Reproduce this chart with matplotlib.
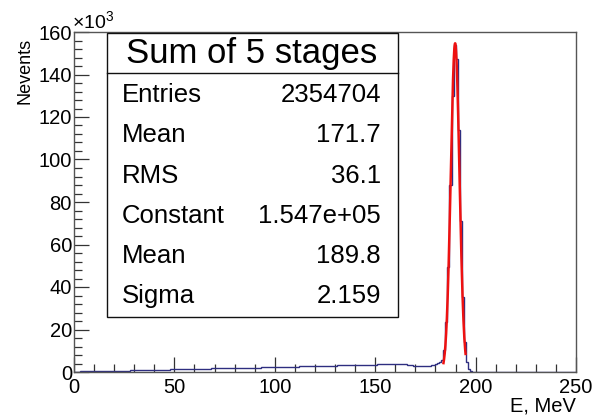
import numpy as np
import matplotlib
matplotlib.use("Agg")
import matplotlib.pyplot as plt
from matplotlib.patches import Rectangle
from matplotlib.lines import Line2D
from matplotlib.ticker import MultipleLocator, FuncFormatter

plt.rcParams['font.family'] = ['Liberation Sans', 'DejaVu Sans']
plt.rcParams['mathtext.fontset'] = 'custom'
plt.rcParams['mathtext.rm'] = 'Liberation Sans'

# Energy histogram, 1 MeV bins from 0 to 250 MeV (counts in thousands)
bin_edges = np.arange(0, 251, 1)
counts_k = [
    0.0, 0.1, 0.2, 0.3, 0.3, 0.3, 0.4, 0.4, 0.4, 0.4,
    0.4, 0.5, 0.5, 0.5, 0.5, 0.5, 0.5, 0.6, 0.6, 0.6,
    0.6, 0.6, 0.6, 0.7, 0.7, 0.7, 0.7, 0.7, 0.8, 0.8,
    0.8, 0.8, 0.8, 0.9, 0.9, 0.9, 0.9, 0.9, 1.0, 1.0,
    1.0, 1.0, 1.0, 1.1, 1.1, 1.1, 1.1, 1.1, 1.2, 1.2,
    1.2, 1.2, 1.3, 1.3, 1.3, 1.3, 1.4, 1.4, 1.4, 1.4,
    1.5, 1.5, 1.5, 1.5, 1.6, 1.6, 1.6, 1.6, 1.7, 1.7,
    1.7, 1.7, 1.7, 1.8, 1.8, 1.8, 1.8, 1.8, 1.9, 1.9,
    1.9, 1.9, 1.9, 2.0, 2.0, 2.0, 2.0, 2.0, 2.1, 2.1,
    2.1, 2.1, 2.1, 2.2, 2.2, 2.2, 2.2, 2.2, 2.2, 2.3,
    2.3, 2.3, 2.3, 2.3, 2.4, 2.4, 2.4, 2.4, 2.5, 2.5,
    2.5, 2.5, 2.6, 2.6, 2.6, 2.6, 2.7, 2.7, 2.7, 2.7,
    2.8, 2.8, 2.8, 2.9, 2.9, 2.9, 2.9, 3.0, 3.0, 3.0,
    3.0, 3.1, 3.1, 3.1, 3.2, 3.2, 3.2, 3.2, 3.3, 3.3,
    3.3, 3.3, 3.4, 3.4, 3.4, 3.4, 3.5, 3.5, 3.5, 3.5,
    3.5, 3.6, 3.6, 3.6, 3.6, 3.7, 3.7, 3.7, 3.7, 3.8,
    3.8, 3.8, 3.8, 3.7, 3.7, 3.6, 3.5, 3.3, 3.1, 3.0,
    2.9, 2.8, 2.7, 2.7, 2.7, 2.7, 2.8, 2.9, 3.1, 3.3,
    3.6, 4.1, 4.6, 5.8, 10.3, 23.5, 49.5, 88.0, 130.0, 154.0,
    147.5, 114.0, 71.0, 35.5, 14.0, 4.5, 1.4, 0.5, 0.2, 0.1,
    0.0, 0.0, 0.0, 0.0, 0.0, 0.0, 0.0, 0.0, 0.0, 0.0,
    0.0, 0.0, 0.0, 0.0, 0.0, 0.0, 0.0, 0.0, 0.0, 0.0,
    0.0, 0.0, 0.0, 0.0, 0.0, 0.0, 0.0, 0.0, 0.0, 0.0,
    0.0, 0.0, 0.0, 0.0, 0.0, 0.0, 0.0, 0.0, 0.0, 0.0,
    0.0, 0.0, 0.0, 0.0, 0.0, 0.0, 0.0, 0.0, 0.0, 0.0,
]
counts = np.array(counts_k) * 1000.0

# Gaussian fit parameters
fit_constant = 1.547e5
fit_mean = 189.8
fit_sigma = 2.159
fit_range = (184.0, 195.0)

# Statistics box entries
stats_title = "Sum of 5 stages"
stats_names = ["Entries", "Mean", "RMS", "Constant", "Mean", "Sigma"]
stats_values = ["2354704", "171.7", "36.1", "1.547e+05", "189.8", "2.159"]

W, H = 603, 418
fig = plt.figure(figsize=(W / 100, H / 100), dpi=100)
ax = fig.add_axes([74 / W, 1 - 372 / H, (576 - 74) / W, (372 - 32) / H])


def fxy(x, y):
    return x / W, 1 - y / H


hist_color = "#2e2e80"
ax.stairs(counts, bin_edges, color=hist_color, lw=1.0, zorder=2)

xf = np.linspace(fit_range[0], fit_range[1], 300)
yf = fit_constant * np.exp(-0.5 * ((xf - fit_mean) / fit_sigma) ** 2)
ax.plot(xf, yf, color="#ee1111", lw=1.8, zorder=3)

ax.set_xlim(0, 250)
ax.set_ylim(0, 160000)

ax.xaxis.set_major_locator(MultipleLocator(50))
ax.xaxis.set_minor_locator(MultipleLocator(10))
ax.yaxis.set_major_locator(MultipleLocator(20000))
ax.yaxis.set_minor_locator(MultipleLocator(4000))
ax.yaxis.set_major_formatter(FuncFormatter(lambda v, p: f"{v / 1000:.0f}"))

ax.tick_params(axis="both", which="both", direction="in", top=False, right=False)
ax.tick_params(axis="both", which="major", length=11, width=0.9, color="#333333")
ax.tick_params(axis="both", which="minor", length=5.5, width=0.9, color="#333333")
ax.tick_params(axis="x", which="major", labelsize=14.5, pad=4)
ax.tick_params(axis="y", which="major", labelsize=14.5, pad=1.5)

for s in ax.spines.values():
    s.set_color("#555555")
    s.set_linewidth(1.0)

# Axis titles and the y-axis multiplier
fig.text(*fxy(576, 406), "E, MeV", ha="right", va="center", fontsize=14.5)
fig.text(*fxy(25, 38), "Nevents", rotation=90, ha="center", va="top", fontsize=13)
fig.text(*fxy(72, 29), r"$\times10^{3}$", ha="left", va="baseline", fontsize=14)

# Statistics box
bx0, by0, bx1, by1 = 107, 33, 398, 317
x0, y1 = fxy(bx0, by1)
x1, y0 = fxy(bx1, by0)
fig.patches.append(Rectangle((x0, y1), x1 - x0, y0 - y1, transform=fig.transFigure,
                             facecolor="white", edgecolor="#111111", lw=1.0, zorder=5))
sx0, sy = fxy(bx0, 73)
sx1, _ = fxy(bx1, 73)
fig.lines.append(Line2D([sx0, sx1], [sy, sy], transform=fig.transFigure,
                        color="#111111", lw=1.0, zorder=6))
fig.text(*fxy(252, 53), stats_title, ha="center", va="center", fontsize=25, zorder=7)
row_y = [95, 135, 176, 216, 256, 296]
for name, val, yy in zip(stats_names, stats_values, row_y):
    fig.text(*fxy(122, yy), name, ha="left", va="center", fontsize=18.5, zorder=7)
    fig.text(*fxy(381, yy), val, ha="right", va="center", fontsize=18.5, zorder=7)

fig.savefig("out.png", dpi=100)
